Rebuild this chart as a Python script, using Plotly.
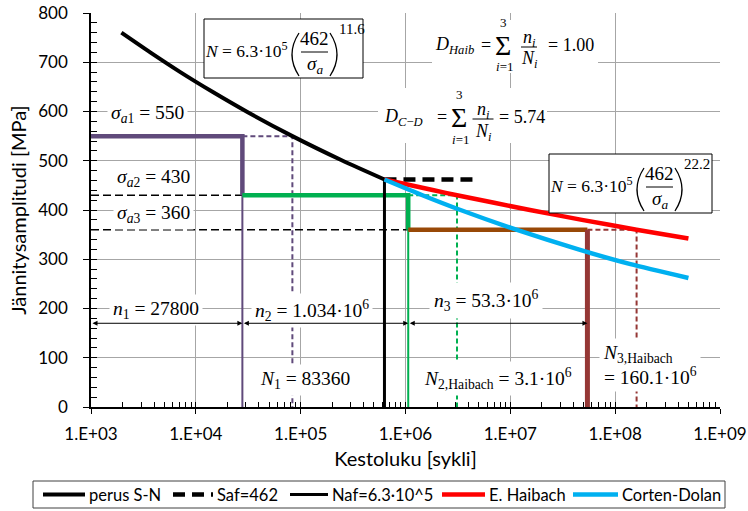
import numpy as np
import plotly.graph_objects as go

# ---- data -----------------------------------------------------------------
# basic S-N curve  N = 6.3e5 * (462 / sigma_a) ** 11.6
sn_stress = [760, 720, 680, 640, 600, 550, 500, 462]
sn_cycles = [1950, 3670, 7110, 14400, 30400, 83360, 252000, 630000]

# knee point: fatigue limit Saf and the corresponding cycle count Naf
saf_stress = [462, 462]
saf_cycles = [630000, 5000000]
naf_stress = [0, 462]
naf_cycles = [630000, 630000]

# Haibach extension below the knee (exponent 22.2)
haibach_stress = [462, 440, 430, 400, 380, 360, 342]
haibach_cycles = [630000, 1860000, 3100000, 15400000, 48200000, 160100000, 500000000]

# Corten-Dolan extension below the knee
cd_stress = [462, 430, 400, 360, 320, 290, 262]
cd_cycles = [630000, 1450000, 3350000, 11400000, 44600000, 140000000, 500000000]

# load blocks: stress amplitude, applied cycles, life from the Haibach curve
block_stress = [550, 430, 360]
block_cycles = [27800, 1034000, 53300000]
block_life = [83360, 3100000, 160100000]

# damage sums
d_haibach = 1.00
d_corten_dolan = 5.74

x_ticks = [1e3, 1e4, 1e5, 1e6, 1e7, 1e8, 1e9]
x_tick_labels = ["1.E+03", "1.E+04", "1.E+05", "1.E+06", "1.E+07", "1.E+08", "1.E+09"]
y_ticks = [0, 100, 200, 300, 400, 500, 600, 700, 800]

# ---- styling --------------------------------------------------------------
SANS = "Lato"
SERIF = "Liberation Serif"
PURPLE = "#604A7B"
GREEN = "#00B050"
BROWN_H = "#984807"
BROWN_V = "#953735"
RED = "#FF0000"
BLUE = "#00B0F0"
GRID = "#A6A6A6"

FIG_W, FIG_H = 748, 511
# plot area in pixels (for placing the formula texts)
L, T, W, H = 91, 13, 629, 394


def px(x):
    return (x - L) / W


def py(y):
    return (T + H - y) / H


ends = np.cumsum(block_cycles)
starts = [x_ticks[0], ends[0], ends[1]]

fig = go.Figure()


def line(x, y, color, width, dash="solid"):
    fig.add_trace(go.Scatter(
        x=x, y=y, mode="lines", showlegend=False, hoverinfo="skip",
        line=dict(color=color, width=width, dash=dash),
    ))


# horizontal guide lines for the lower load levels
line([x_ticks[0], ends[0]], [block_stress[1]] * 2, "black", 1.5, "8px,4px")
line([x_ticks[0], ends[1]], [block_stress[2]] * 2, "black", 1.5, "8px,4px")

# Haibach lives of each block (dashed)
dash_colors = [PURPLE, GREEN, BROWN_V]
for s, st, nl, c in zip(block_stress, ends, block_life, dash_colors):
    line([st, nl, nl], [s, s, 0], c, 2, "5px,3px")

# applied load blocks
line([x_ticks[0], ends[0], ends[0]], [block_stress[0], block_stress[0], block_stress[1]], PURPLE, 4.5)
line([ends[0], ends[0]], [block_stress[1], 0], PURPLE, 2)
line([ends[0], ends[1], ends[1]], [block_stress[1], block_stress[1], block_stress[2]], GREEN, 4.5)
line([ends[1], ends[1]], [block_stress[2], 0], GREEN, 2)
line([ends[1], ends[2]], [block_stress[2]] * 2, BROWN_H, 4.5)
line([ends[2], ends[2]], [block_stress[2], 0], BROWN_V, 5)

# named curves (listed in the legend box below the plot)
named = [
    ("perus S-N", sn_cycles, sn_stress, dict(color="black", width=4, shape="spline", smoothing=0.6)),
    ("Saf=462", saf_cycles, saf_stress, dict(color="black", width=4.5, dash="12px,7px")),
    ("Naf=6.3·10^5", naf_cycles, naf_stress, dict(color="black", width=3)),
    ("E. Haibach", haibach_cycles, haibach_stress, dict(color=RED, width=4.5, shape="spline", smoothing=0.6)),
    ("Corten-Dolan", cd_cycles, cd_stress, dict(color=BLUE, width=4.5, shape="spline", smoothing=0.6)),
]
for name, xs, ys, style in named:
    fig.add_trace(go.Scatter(x=xs, y=ys, mode="lines", name=name, showlegend=False, line=style))

# carrier trace for the inner tick axes
fig.add_trace(go.Scatter(x=[x_ticks[0]], y=[0], xaxis="x2", yaxis="y2", mode="markers",
                         marker=dict(opacity=0), showlegend=False, hoverinfo="skip"))

annotations = []
shapes = []


def label(text, x, y, size=18, xanchor="left", bg=None, align="left", pad=1, family=SERIF):
    annotations.append(dict(
        text=text, xref="paper", yref="paper", x=px(x), y=py(y),
        xanchor=xanchor, yanchor="middle", showarrow=False, align=align,
        font=dict(family=family, size=size, color="black"),
        bgcolor=bg if bg else "rgba(0,0,0,0)", borderpad=pad,
    ))


def rect(x0, y0, x1, y1, border="black", fill="white"):
    shapes.append(dict(type="rect", xref="paper", yref="paper",
                       x0=px(x0), x1=px(x1), y0=py(y1), y1=py(y0),
                       fillcolor=fill, layer="above",
                       line=dict(color=border if border else "rgba(0,0,0,0)", width=1 if border else 0)))


def hbar(x0, x1, y, color="black", width=1, dash="solid"):
    shapes.append(dict(type="line", xref="paper", yref="paper", layer="above",
                       x0=px(x0), x1=px(x1), y0=py(y), y1=py(y),
                       line=dict(color=color, width=width, dash=dash)))


def paren(xe, y0, y1, bulge):
    ym = (y0 + y1) / 2
    path = "M {:.5f},{:.5f} Q {:.5f},{:.5f} {:.5f},{:.5f}".format(
        px(xe), py(y0), px(xe + 2 * bulge), py(ym), px(xe), py(y1))
    shapes.append(dict(type="path", xref="paper", yref="paper", layer="above",
                       path=path, line=dict(color="black", width=1.3)))


def sn_formula(left, top, width, exponent):
    rect(left, top, left + width, top + 59)
    label("<i>N</i> = 6.3·10<sup>5</sup>", left - 1, top + 31, 17.5)
    paren(left + 95, top + 14, top + 57, -7)
    label("462", left + 110, top + 19, 19, "center")
    hbar(left + 97, left + 124, top + 33)
    label("<i>σ</i><sub><i>a</i></sub>", left + 111, top + 46, 19, "center")
    paren(left + 126, top + 14, top + 57, 7)
    label(exponent, left + 133, top + 10, 15)


sn_formula(204, 19, 159, "11.6")
sn_formula(549, 154, 163, "22.2")


def damage_formula(sub, left, y, sig_x, frac_x, frac_w, value, value_left, box):
    rect(*box, border=None)
    label("<i>D</i><sub>" + sub + "</sub>", left, y, 18)
    label("=", sig_x - 17, y, 18, "center")
    label("Σ", sig_x, y + 1, 28, "center")
    label("3", sig_x, y - 22, 13, "center")
    label("<i>i</i>=1", sig_x + 1, y + 22, 13, "center")
    label("<i>n<sub>i</sub></i>", frac_x, y - 7, 18, "center")
    hbar(frac_x - frac_w / 2, frac_x + frac_w / 2, y + 2)
    label("<i>N<sub>i</sub></i>", frac_x, y + 15, 18, "center")
    label("= {:.2f}".format(value), value_left, y, 18)


damage_formula("<i>Haib</i>", 433, 45, 503, 529, 16, d_haibach, 546, (432, 20, 598, 73))
damage_formula("<i>C</i>−<i>D</i>", 382, 117, 459, 483, 21, d_corten_dolan, 497, (378, 88, 547, 143))

# stress level labels
for i, (s, yy) in enumerate(zip(block_stress, [114, 178, 214])):
    label("<i>σ</i><sub><i>a</i>{}</sub> = {}".format(i + 1, s), 107 if i == 0 else 113, yy, 19.5, bg="white", pad=3)

# block lengths and lives
label("<i>n</i><sub>1</sub> = {}".format(block_cycles[0]), 109, 310, 19.5, bg="white", pad=3)
label("<i>n</i><sub>2</sub> = {:.3f}·10<sup>6</sup>".format(block_cycles[1] / 1e6), 251, 310, 19.5, bg="white", pad=3)
label("<i>N</i><sub>1</sub> = {}".format(block_life[0]), 256, 380, 19.5, bg="white", pad=3)
label("<i>n</i><sub>3</sub> = {:.1f}·10<sup>6</sup>".format(block_cycles[2] / 1e6), 429, 300, 19.5, bg="white", pad=4)
label("<i>N</i><sub>2,Haibach</sub> = {:.1f}·10<sup>6</sup>".format(block_life[1] / 1e6), 420, 378, 19.5, bg="white", pad=3)
label("<i>N</i><sub>3,Haibach</sub><br>= {:.1f}·10<sup>6</sup>".format(block_life[2] / 1e6), 599, 365, 19.5, bg="white", pad=3)

# dimension arrows for the block lengths
arrow_y = 170
for s, e in zip(starts, ends):
    annotations.append(dict(
        x=np.log10(e), y=arrow_y, ax=np.log10(s), ay=arrow_y,
        xref="x", yref="y", axref="x", ayref="y", text="", showarrow=True,
        arrowhead=2, startarrowhead=2, arrowside="end+start",
        arrowsize=1, startarrowsize=1, arrowwidth=1, arrowcolor="black",
        standoff=0, startstandoff=0,
    ))

# legend box below the plot: sample line + name for each named curve
rect(33, 481, 725, 508, border="#404040", fill="rgba(0,0,0,0)")
legend_slots = [(43, 85), (173, 213), (290, 328), (442, 485), (573, 618)]
for (name, _, _, style), (x0, x1) in zip(named, legend_slots):
    hbar(x0, x1, 494.5, style["color"], style["width"], style.get("dash", "solid"))
    label(name, x1 + 2, 494.5, 16.5, family=SANS)

minor_x = [k * 10 ** d for d in range(3, 9) for k in range(1, 10)] + [1e9]

tickfont = dict(family=SANS, size=17, color="black")
fig.update_layout(
    width=FIG_W, height=FIG_H,
    margin=dict(l=L, r=FIG_W - L - W, t=T, b=FIG_H - T - H, autoexpand=False),
    plot_bgcolor="white", paper_bgcolor="white",
    font=dict(family=SANS, color="black"),
    showlegend=False,
    xaxis=dict(
        type="log", range=[3, 9], tickmode="array", tickvals=x_ticks, ticktext=x_tick_labels,
        ticks="outside", ticklen=5, tickcolor="black", tickwidth=1,
        showline=True, linecolor="black", linewidth=1.5, automargin=False,
        showgrid=True, gridcolor=GRID, gridwidth=1, zeroline=False,
        tickfont=tickfont, ticklabelstandoff=6,
        title=dict(text="Kestoluku [sykli]", font=dict(family=SANS, size=20, color="black"), standoff=9),
    ),
    yaxis=dict(
        range=[0, 800], tickmode="array", tickvals=y_ticks,
        ticks="outside", ticklen=6, tickcolor="black", tickwidth=1,
        showline=True, linecolor="black", linewidth=1.5, automargin=False,
        showgrid=True, gridcolor=GRID, gridwidth=1, zeroline=False,
        tickfont=tickfont, ticklabelstandoff=12,
        title=dict(text="Jännitysamplitudi [MPa]", font=dict(family=SANS, size=20, color="black"), standoff=6),
    ),
    xaxis2=dict(
        type="log", range=[3, 9], overlaying="x", anchor="y", side="bottom",
        tickmode="array", tickvals=minor_x, ticks="inside", ticklen=5, automargin=False,
        tickcolor="black", showticklabels=False, showgrid=False, showline=False, zeroline=False,
    ),
    yaxis2=dict(
        range=[0, 800], overlaying="y", anchor="x", side="left",
        tick0=0, dtick=20, ticks="inside", ticklen=6, automargin=False,
        tickcolor="black", showticklabels=False, showgrid=False, showline=False, zeroline=False,
    ),
    annotations=annotations,
    shapes=shapes,
)

fig.write_html("out.html")
